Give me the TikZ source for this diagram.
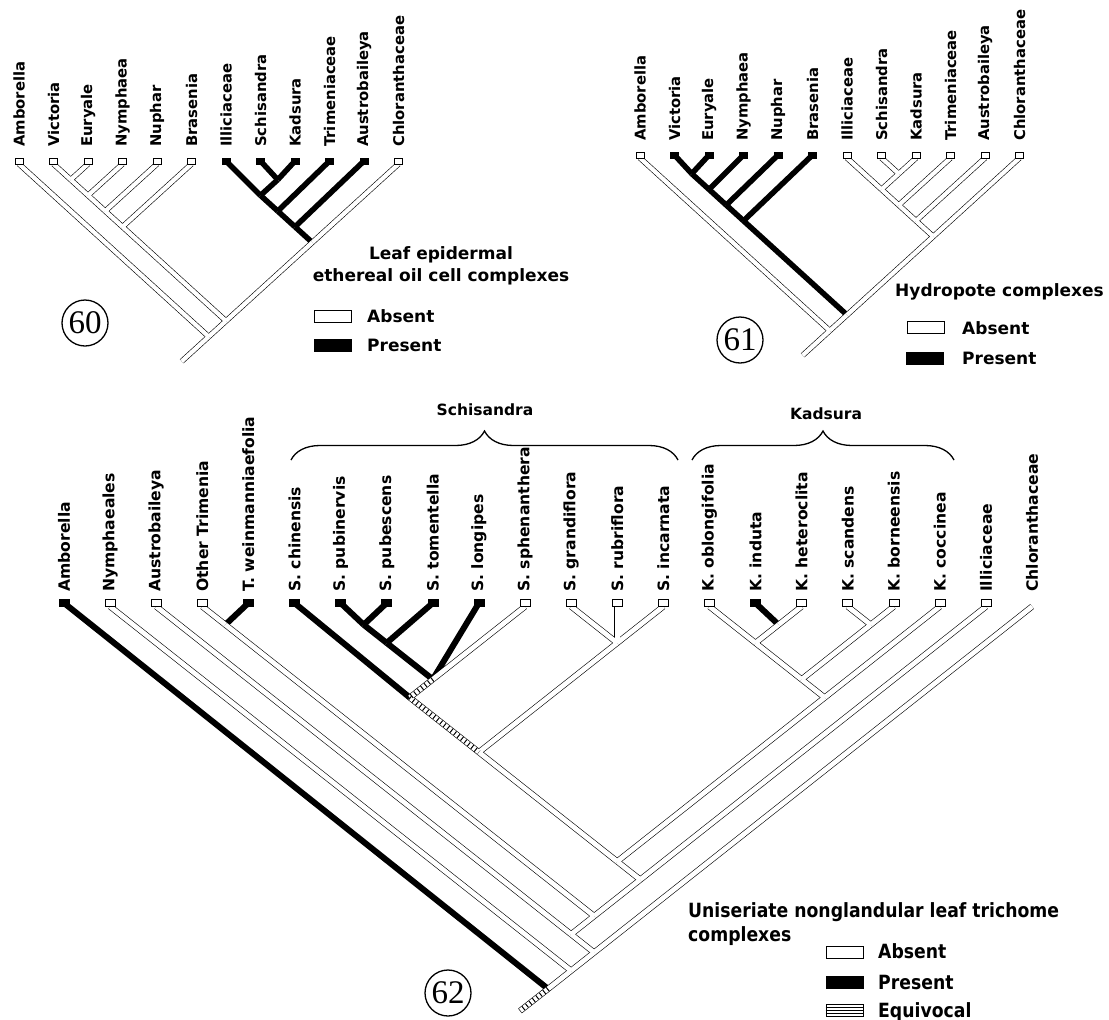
\documentclass[tikz,border=0pt]{standalone}
\usepackage{fontspec}
\setmainfont{DejaVu Sans}
\newfontfamily\numfont{Liberation Serif}
\newfontfamily\narrowfont[FakeStretch=0.88]{DejaVu Sans}
\usetikzlibrary{calc,decorations.pathreplacing}
\tikzset{
  lbl/.style={rotate=90, anchor=west, inner sep=1pt, font=\bfseries\fontsize{\ls}{\ls}\selectfont},
  tipabs/.style={draw, fill=white, line width=0.6pt, minimum width=\tw, minimum height=\th, inner sep=0pt},
  tippres/.style={tipabs, fill=black},
  tipnone/.style={inner sep=0pt, minimum size=0pt},
  brout/.style={line width=\bw+1.2pt},
  brin/.style={white, line width=\bw},
  brpres/.style={line width=\bk},
  brequ/.style={line width=\bw, dash pattern=on 1pt off 3.4pt},
  cnum/.style={circle, draw, line width=1.3pt, minimum size=46pt, inner sep=0pt, font=\numfont\fontsize{33}{33}\selectfont},
  legtxt/.style={anchor=west, inner sep=0pt, font=\bfseries\fontsize{17}{22}\selectfont},
  legnar/.style={legtxt, font=\narrowfont\bfseries\fontsize{19.6}{24}\selectfont},
  legabs/.style={draw, fill=white, line width=1pt, minimum width=37pt, minimum height=12pt, inner sep=0pt},
  legpres/.style={legabs, fill=black},
  grp/.style={font=\bfseries\fontsize{15.5}{15.5}\selectfont, inner sep=0pt},
  brc/.style={decorate, decoration={brace, amplitude=29pt}, line width=1.3pt}
}
% node of a clade: halfway between its outer tips, 45 degree slopes
\newcommand{\clade}[4]{\path let \p1=(#2), \p2=(#3) in ({(\x1+\x2)/2},{\y1-#4*(\x2-\x1)/2}) coordinate (#1);}

\def\taxsixty{Amborella/tipabs,Victoria/tipabs,Euryale/tipabs,Nymphaea/tipabs,Nuphar/tipabs,Brasenia/tipabs,Illiciaceae/tippres,Schisandra/tippres,Kadsura/tippres,Trimeniaceae/tippres,Austrobaileya/tippres,Chloranthaceae/tipabs}
\def\taxsixtyone{Amborella/tipabs,Victoria/tippres,Euryale/tippres,Nymphaea/tippres,Nuphar/tippres,Brasenia/tippres,Illiciaceae/tipabs,Schisandra/tipabs,Kadsura/tipabs,Trimeniaceae/tipabs,Austrobaileya/tipabs,Chloranthaceae/tipabs}
\def\taxsixtytwo{Amborella/tippres,Nymphaeales/tipabs,Austrobaileya/tipabs,Other Trimenia/tipabs,T. weinmanniaefolia/tippres,S. chinensis/tippres,S. pubinervis/tippres,S. pubescens/tippres,S. tomentella/tippres,S. longipes/tippres,S. sphenanthera/tipabs,S. grandiflora/tipabs,S. rubriflora/tipabs,S. incarnata/tipabs,K. oblongifolia/tipabs,K. induta/tippres,K. heteroclita/tipabs,K. scandens/tipabs,K. borneensis/tipabs,K. coccinea/tipabs,Illiciaceae/tipabs,Chloranthaceae/tipnone}

\begin{document}
\begin{tikzpicture}[x=1pt, y=-1pt]
  \useasboundingbox (0,0) rectangle (1109,1020);

  % ===== 60: leaf epidermal oil cells
  \def\bw{4.2pt}\def\bk{5.5pt}\def\tw{8pt}\def\th{6pt}\def\ls{14.8}
  \foreach \nm/\st [count=\i from 0] in \taxsixty {
    \coordinate (ut\i) at ({19+34.5*\i},164);
    \coordinate (uc\i) at ({19+34.5*\i},161);
    \node[lbl] (ul\i) at ({19+34.5*\i},148) {\nm};
  }
  \foreach \nd/\lf/\rt in {u1/ut1/ut2, u2/ut1/ut3, u3/ut1/ut4, u4/ut1/ut5, u5/ut7/ut8, u6/ut6/ut8,
                        u7/ut6/ut9, u8/ut6/ut10, u9/ut6/ut11, u10/ut1/ut11, ur/ut0/ut11}
    {\clade{\nd}{\lf}{\rt}{0.91}}
  \coordinate (ure) at ($(ur)+(-27,24.6)$);
  \def\uwhite{ut0/ur, ut1/u1, ut2/u1, u1/u2, ut3/u2, u2/u3, ut4/u3, u3/u4, ut5/u4, u4/u10,
              ut11/u9, u9/u10, u10/ur, ur/ure}
  \foreach \a/\b in {uc6/u6, uc7/u5, uc8/u5, u5/u6, u6/u7, uc9/u7, u7/u8, uc10/u8, u8/u9}
    \draw[brpres] (\a) -- (\b);
  \foreach \a/\b in \uwhite \draw[brout] (\a) -- (\b);
  \foreach \a/\b in \uwhite \draw[brin] (\a) -- (\b);
  \foreach \nm/\st [count=\i from 0] in \taxsixty {\node[\st] (ub\i) at (uc\i) {};}

  \node[cnum] (num60) at (85,323) {60};
  \node[legtxt, anchor=center, align=center] (ttl60) at (441,266) {Leaf epidermal\\ethereal oil cell complexes};
  \node[legabs] (abs60) at (332.5,316.5) {};
  \node[legpres] (prs60) at (332.5,345) {};
  \node[legtxt] (abst60) at (367,316.5) {Absent};
  \node[legtxt] (prst60) at (367,345) {Present};

  % ===== 61: hydropotes
  \foreach \nm/\st [count=\i from 0] in \taxsixtyone {
    \coordinate (vt\i) at ({640+34.5*\i},158);
    \coordinate (vc\i) at ({640+34.5*\i},155);
    \node[lbl] (vl\i) at ({640+34.5*\i},142) {\nm};
  }
  \foreach \nd/\lf/\rt in {v1/vt1/vt2, v2/vt1/vt3, v3/vt1/vt4, v4/vt1/vt5, v5/vt7/vt8, v6/vt6/vt8,
                        v7/vt6/vt9, v8/vt6/vt10, v9/vt6/vt11, v10/vt1/vt11, vr/vt0/vt11}
    {\clade{\nd}{\lf}{\rt}{0.91}}
  \coordinate (vre) at ($(vr)+(-27,24.6)$);
  \def\vwhite{vt0/vr, vt6/v6, vt7/v5, vt8/v5, v5/v6, v6/v7, vt9/v7, v7/v8, vt10/v8, v8/v9,
              vt11/v9, v9/v10, v10/vr, vr/vre}
  \foreach \a/\b in {vc1/v1, vc2/v1, v1/v2, vc3/v2, v2/v3, vc4/v3, v3/v4, vc5/v4, v4/v10}
    \draw[brpres] (\a) -- (\b);
  \foreach \a/\b in \vwhite \draw[brout] (\a) -- (\b);
  \foreach \a/\b in \vwhite \draw[brin] (\a) -- (\b);
  \foreach \nm/\st [count=\i from 0] in \taxsixtyone {\node[\st] (vb\i) at (vc\i) {};}

  \node[cnum] (num61) at (740,340) {61};
  \node[legtxt] (ttl61) at (895,292) {Hydropote complexes};
  \node[legabs] (abs61) at (925.5,327.5) {};
  \node[legpres] (prs61) at (925,358.5) {};
  \node[legtxt] (abst61) at (962,328) {Absent};
  \node[legtxt] (prst61) at (962,358) {Present};

  % ===== 62: uniseriate trichomes
  \def\bw{4.8pt}\def\bk{6pt}\def\tw{10pt}\def\th{7pt}\def\ls{15.6}
  \foreach \nm/\st [count=\i from 0] in \taxsixtytwo {
    \coordinate (wt\i) at ({64+46.1*\i},606.5);
    \coordinate (wc\i) at ({64+46.1*\i},603);
    \node[lbl] (wl\i) at ({64+46.1*\i},593) {\nm};
  }
  \foreach \nd/\lf/\rt in {w1/wt3/wt4, w2/wt6/wt7, w3/wt6/wt8, w4/wt6/wt10, w5/wt5/wt10, w6/wt11/wt13,
                        w7/wt5/wt13, w8/wt15/wt16, w9/wt14/wt16, w10/wt17/wt18, w11/wt14/wt18,
                        w12/wt14/wt19, w13/wt5/wt19, w14/wt5/wt20, w15/wt3/wt20, w16/wt2/wt20,
                        w17/wt2/wt21, w18/wt1/wt21, wr/wt0/wt21}
    {\clade{\nd}{\lf}{\rt}{0.79}}
  \coordinate (wre) at ($(wr)+(-28,22)$);
  \def\wwhite{wt1/w18, wt2/w16, wt3/w1, w1/w15, wt10/w4, wt11/w6, wt12/w6, wt13/w6, w6/w7, w7/w13,
              wt14/w9, wt16/w8, w8/w9, w9/w11, wt17/w10, wt18/w10, w10/w11, w11/w12, wt19/w12,
              w12/w13, w13/w14, wt20/w14, w14/w15, w15/w16, w16/w17, wt21/w17, w17/w18, w18/wr}
  \def\wequ{w4/w5, w5/w7, wr/wre}
  \foreach \a/\b in {wc0/wr, wc4/w1, wc5/w5, wc6/w2, wc7/w2, w2/w3, wc8/w3, w3/w4, wc9/w4, wc15/w8}
    \draw[brpres] (\a) -- (\b);
  \foreach \a/\b in \wwhite \draw[brout] (\a) -- (\b);
  \foreach \a/\b in \wequ \draw[brout] (\a) -- (\b);
  \foreach \a/\b in \wwhite \draw[brin] (\a) -- (\b);
  \foreach \a/\b in \wequ \draw[brin] (\a) -- (\b);
  \foreach \a/\b in \wequ \draw[brequ] (\a) -- (\b);
  \foreach \nm/\st [count=\i from 0] in \taxsixtytwo {\node[\st] (wb\i) at (wc\i) {};}

  % genus braces
  \coordinate (sbl) at (291,460);
  \coordinate (sbr) at (678,460);
  \draw[brc] (sbl) -- (sbr);
  \node[grp] (schl) at (485,410) {Schisandra};
  \coordinate (kbl) at (692,460);
  \coordinate (kbr) at (954,460);
  \draw[brc] (kbl) -- (kbr);
  \node[grp] (kadl) at (826,414) {Kadsura};

  \node[cnum] (num62) at (448,993) {62};
  \node[legnar, align=left] (ttl62) at (688,924) {Uniseriate nonglandular leaf trichome\\complexes};
  \node[legabs] (abs62) at (844.5,952.5) {};
  \node[legpres] (prs62) at (845,982.5) {};
  \node[legabs] (equ62) at (844.5,1010.5) {};
  \foreach \f in {0.25,0.5,0.75}
    \draw[line width=0.8pt] ($(equ62.north west)!\f!(equ62.south west)$) -- ($(equ62.north east)!\f!(equ62.south east)$);
  \node[legnar] (abst62) at (878,951) {Absent};
  \node[legnar] (prst62) at (878,982) {Present};
  \node[legnar] (eqt62) at (878,1012) {Equivocal};
\end{tikzpicture}
\end{document}
